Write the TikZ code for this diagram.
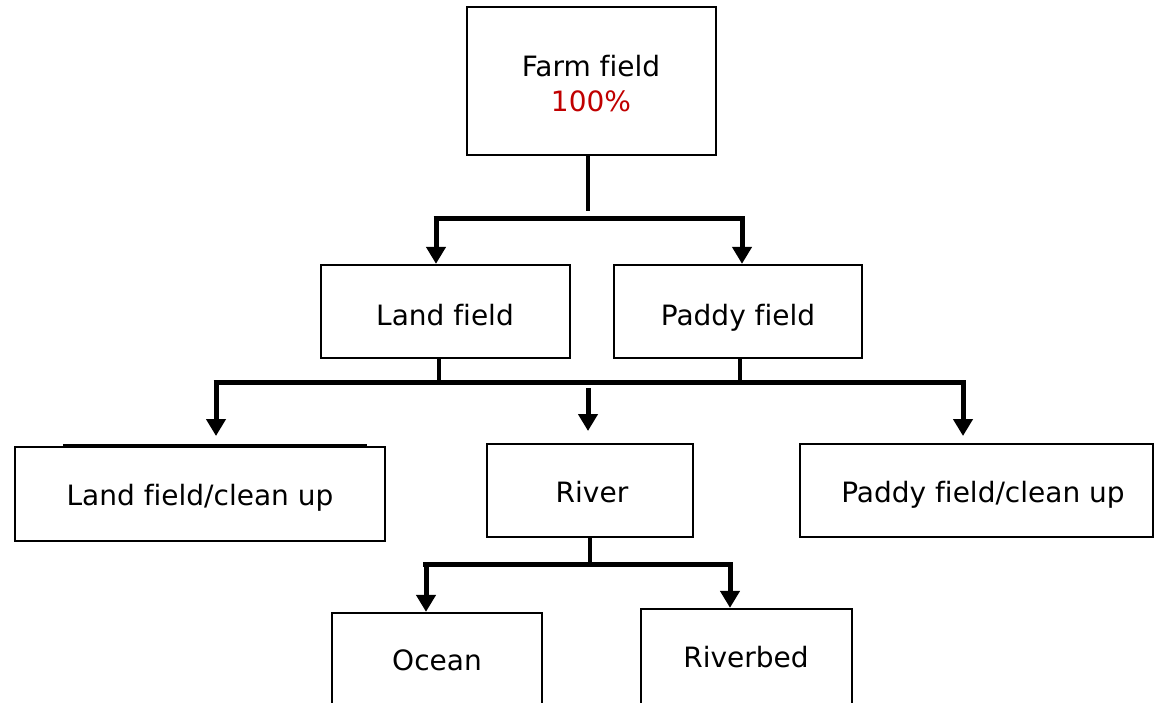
\documentclass[tikz,border=0pt]{standalone}
\usepackage{fontspec}
\setmainfont[Ligatures=NoCommon]{DejaVu Sans}
\usetikzlibrary{arrows.meta}
\definecolor{pctred}{HTML}{C00000}
\begin{document}
\begin{tikzpicture}[x=1pt,y=-1pt,
  box/.style={draw=black,line width=2.3pt,rectangle,inner sep=0pt,fill=white},
  lbl/.style={font=\fontsize{28}{35}\selectfont,inner sep=0pt,align=center,anchor=base},
  stem/.style={line width=4.5pt},
  bar/.style={line width=5pt},
  arr/.style={line width=5pt,-{Triangle[width=19pt,length=17pt]}}]
\useasboundingbox (0,0) rectangle (1154,702);
\clip (0,0) rectangle (1154,702);
% boxes
\node[box,minimum width=249pt,minimum height=148pt] (farm) at (591.5,81) {};
\node[box,minimum width=249pt,minimum height=93pt] (land) at (445.5,311.5) {};
\node[box,minimum width=248pt,minimum height=93pt] (paddy) at (738,311.5) {};
\node[box,minimum width=370pt,minimum height=94pt] (lclean) at (200,494) {};
\node[box,minimum width=206pt,minimum height=93pt] (river) at (590,490.5) {};
\node[box,minimum width=353pt,minimum height=93pt] (pclean) at (976.5,490.5) {};
\node[box,minimum width=210pt,minimum height=130pt] (ocean) at (437,678) {};
\node[box,minimum width=211pt,minimum height=130pt] (riverbed) at (746.5,674) {};
% texts
\node[lbl] (tfarm) at (591,111) {Farm field\\\textcolor{pctred}{100\%}};
\node[lbl] (tland) at (445,325) {Land field};
\node[lbl] (tpaddy) at (738,325) {Paddy field};
\node[lbl] (tlclean) at (200,505) {Land field/clean up};
\node[lbl] (triver) at (592,502) {River};
\node[lbl] (tpclean) at (983,502) {Paddy field/clean up};
\node[lbl] (tocean) at (437,670) {Ocean};
\node[lbl] (triverbed) at (746,667) {Riverbed};
% extra top edge on left box
\coordinate (le1) at (63,445);
\coordinate (le2) at (367,445);
\draw[line width=2pt] (le1) -- (le2);
% level 1 connectors
\coordinate (s1) at (588,211);
\coordinate (b1l) at (436,218);
\coordinate (b1r) at (742,218);
\draw[stem] (farm.south -| s1) -- (s1);
\draw[bar] ([xshift=-2.5pt]b1l) -- ([xshift=2.5pt]b1r);
\draw[arr] (b1l) -- (land.north -| b1l);
\draw[arr] (b1r) -- (paddy.north -| b1r);
% level 2 connectors
\coordinate (b2l) at (216,382);
\coordinate (b2r) at (963,382);
\coordinate (m2) at (588,388);
\draw[stem] (land.south -| 439,0) -- (439,382);
\draw[stem] (paddy.south -| 740,0) -- (740,382);
\draw[bar] ([xshift=-2.5pt]b2l) -- ([xshift=2.5pt]b2r);
\draw[arr] (b2l) -- (216,436);
\draw[arr] (m2) -- (588,431);
\draw[arr] (b2r) -- (963,436);
% level 3 connectors
\coordinate (b3l) at (426,564);
\coordinate (b3r) at (730,564);
\draw[stem] (river.south -| 590,0) -- (590,564);
\draw[bar] ([xshift=-3pt]b3l) -- ([xshift=2.5pt]b3r);
\draw[arr] (b3l) -- (ocean.north -| b3l);
\draw[arr] (730,567) -- (riverbed.north -| b3r);
\end{tikzpicture}
\end{document}
